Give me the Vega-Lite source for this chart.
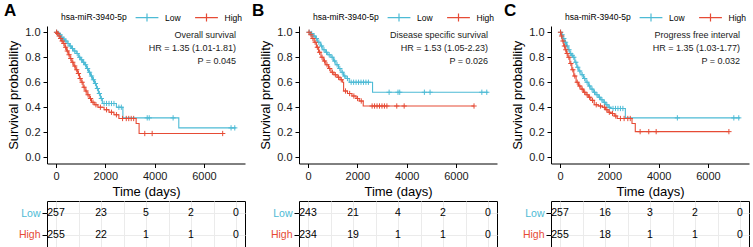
{
"$schema": "https://vega.github.io/schema/vega-lite/v6.json",
"padding": {"left": 4, "top": 2, "right": 0, "bottom": 0},
"spacing": 6,
"background": "white",
"datasets": {
"curves": [
{"p":"A","g":"Low","t":0,"s":1.0},{"p":"A","g":"Low","t":60,"s":0.99},{"p":"A","g":"Low","t":120,"s":0.98},{"p":"A","g":"Low","t":200,"s":0.96},{"p":"A","g":"Low","t":280,"s":0.945},{"p":"A","g":"Low","t":360,"s":0.93},{"p":"A","g":"Low","t":450,"s":0.91},{"p":"A","g":"Low","t":540,"s":0.89},{"p":"A","g":"Low","t":630,"s":0.87},{"p":"A","g":"Low","t":720,"s":0.85},{"p":"A","g":"Low","t":820,"s":0.83},{"p":"A","g":"Low","t":920,"s":0.80},{"p":"A","g":"Low","t":1000,"s":0.78},{"p":"A","g":"Low","t":1080,"s":0.76},{"p":"A","g":"Low","t":1160,"s":0.74},{"p":"A","g":"Low","t":1240,"s":0.71},{"p":"A","g":"Low","t":1320,"s":0.68},{"p":"A","g":"Low","t":1400,"s":0.65},{"p":"A","g":"Low","t":1480,"s":0.62},{"p":"A","g":"Low","t":1560,"s":0.59},{"p":"A","g":"Low","t":1640,"s":0.55},{"p":"A","g":"Low","t":1720,"s":0.51},{"p":"A","g":"Low","t":1800,"s":0.47},{"p":"A","g":"Low","t":1880,"s":0.43},{"p":"A","g":"Low","t":2450,"s":0.40},{"p":"A","g":"Low","t":2713,"s":0.315},{"p":"A","g":"Low","t":4980,"s":0.235},{"p":"A","g":"Low","t":7290,"s":0.235},
{"p":"A","g":"High","t":0,"s":1.0},{"p":"A","g":"High","t":40,"s":0.99},{"p":"A","g":"High","t":100,"s":0.97},{"p":"A","g":"High","t":160,"s":0.95},{"p":"A","g":"High","t":220,"s":0.93},{"p":"A","g":"High","t":290,"s":0.91},{"p":"A","g":"High","t":360,"s":0.88},{"p":"A","g":"High","t":430,"s":0.85},{"p":"A","g":"High","t":500,"s":0.82},{"p":"A","g":"High","t":570,"s":0.79},{"p":"A","g":"High","t":640,"s":0.76},{"p":"A","g":"High","t":720,"s":0.73},{"p":"A","g":"High","t":800,"s":0.70},{"p":"A","g":"High","t":880,"s":0.67},{"p":"A","g":"High","t":950,"s":0.63},{"p":"A","g":"High","t":1020,"s":0.60},{"p":"A","g":"High","t":1100,"s":0.56},{"p":"A","g":"High","t":1180,"s":0.53},{"p":"A","g":"High","t":1260,"s":0.50},{"p":"A","g":"High","t":1350,"s":0.47},{"p":"A","g":"High","t":1440,"s":0.44},{"p":"A","g":"High","t":1550,"s":0.42},{"p":"A","g":"High","t":1700,"s":0.40},{"p":"A","g":"High","t":1950,"s":0.38},{"p":"A","g":"High","t":2150,"s":0.36},{"p":"A","g":"High","t":2350,"s":0.34},{"p":"A","g":"High","t":2550,"s":0.31},{"p":"A","g":"High","t":3250,"s":0.27},{"p":"A","g":"High","t":3370,"s":0.19},{"p":"A","g":"High","t":6760,"s":0.19},
{"p":"B","g":"Low","t":0,"s":1.0},{"p":"B","g":"Low","t":100,"s":0.99},{"p":"B","g":"Low","t":200,"s":0.97},{"p":"B","g":"Low","t":300,"s":0.95},{"p":"B","g":"Low","t":391,"s":0.92},{"p":"B","g":"Low","t":500,"s":0.89},{"p":"B","g":"Low","t":600,"s":0.86},{"p":"B","g":"Low","t":700,"s":0.84},{"p":"B","g":"Low","t":800,"s":0.82},{"p":"B","g":"Low","t":931,"s":0.80},{"p":"B","g":"Low","t":1030,"s":0.77},{"p":"B","g":"Low","t":1130,"s":0.74},{"p":"B","g":"Low","t":1236,"s":0.71},{"p":"B","g":"Low","t":1336,"s":0.68},{"p":"B","g":"Low","t":1440,"s":0.65},{"p":"B","g":"Low","t":1538,"s":0.63},{"p":"B","g":"Low","t":1673,"s":0.60},{"p":"B","g":"Low","t":2618,"s":0.52},{"p":"B","g":"Low","t":7300,"s":0.52},
{"p":"B","g":"High","t":0,"s":1.0},{"p":"B","g":"High","t":80,"s":0.98},{"p":"B","g":"High","t":160,"s":0.95},{"p":"B","g":"High","t":250,"s":0.92},{"p":"B","g":"High","t":340,"s":0.88},{"p":"B","g":"High","t":430,"s":0.84},{"p":"B","g":"High","t":526,"s":0.80},{"p":"B","g":"High","t":620,"s":0.77},{"p":"B","g":"High","t":720,"s":0.74},{"p":"B","g":"High","t":830,"s":0.71},{"p":"B","g":"High","t":930,"s":0.68},{"p":"B","g":"High","t":1050,"s":0.66},{"p":"B","g":"High","t":1180,"s":0.64},{"p":"B","g":"High","t":1300,"s":0.62},{"p":"B","g":"High","t":1404,"s":0.60},{"p":"B","g":"High","t":1444,"s":0.53},{"p":"B","g":"High","t":1600,"s":0.51},{"p":"B","g":"High","t":1781,"s":0.49},{"p":"B","g":"High","t":1950,"s":0.47},{"p":"B","g":"High","t":2078,"s":0.45},{"p":"B","g":"High","t":2240,"s":0.41},{"p":"B","g":"High","t":6733,"s":0.41},
{"p":"C","g":"Low","t":0,"s":1.0},{"p":"C","g":"Low","t":50,"s":0.98},{"p":"C","g":"Low","t":120,"s":0.95},{"p":"C","g":"Low","t":190,"s":0.92},{"p":"C","g":"Low","t":260,"s":0.89},{"p":"C","g":"Low","t":330,"s":0.86},{"p":"C","g":"Low","t":400,"s":0.83},{"p":"C","g":"Low","t":470,"s":0.815},{"p":"C","g":"Low","t":520,"s":0.80},{"p":"C","g":"Low","t":600,"s":0.76},{"p":"C","g":"Low","t":680,"s":0.72},{"p":"C","g":"Low","t":760,"s":0.69},{"p":"C","g":"Low","t":850,"s":0.66},{"p":"C","g":"Low","t":950,"s":0.63},{"p":"C","g":"Low","t":1053,"s":0.60},{"p":"C","g":"Low","t":1150,"s":0.57},{"p":"C","g":"Low","t":1250,"s":0.545},{"p":"C","g":"Low","t":1350,"s":0.52},{"p":"C","g":"Low","t":1453,"s":0.50},{"p":"C","g":"Low","t":1550,"s":0.48},{"p":"C","g":"Low","t":1650,"s":0.46},{"p":"C","g":"Low","t":1750,"s":0.44},{"p":"C","g":"Low","t":1853,"s":0.42},{"p":"C","g":"Low","t":1950,"s":0.40},{"p":"C","g":"Low","t":2053,"s":0.39},{"p":"C","g":"Low","t":2650,"s":0.315},{"p":"C","g":"Low","t":7300,"s":0.315},
{"p":"C","g":"High","t":0,"s":1.0},{"p":"C","g":"High","t":40,"s":0.97},{"p":"C","g":"High","t":90,"s":0.93},{"p":"C","g":"High","t":150,"s":0.89},{"p":"C","g":"High","t":210,"s":0.86},{"p":"C","g":"High","t":260,"s":0.83},{"p":"C","g":"High","t":320,"s":0.80},{"p":"C","g":"High","t":400,"s":0.75},{"p":"C","g":"High","t":480,"s":0.70},{"p":"C","g":"High","t":560,"s":0.65},{"p":"C","g":"High","t":653,"s":0.60},{"p":"C","g":"High","t":750,"s":0.57},{"p":"C","g":"High","t":850,"s":0.545},{"p":"C","g":"High","t":950,"s":0.52},{"p":"C","g":"High","t":1053,"s":0.50},{"p":"C","g":"High","t":1150,"s":0.48},{"p":"C","g":"High","t":1250,"s":0.455},{"p":"C","g":"High","t":1387,"s":0.42},{"p":"C","g":"High","t":1550,"s":0.41},{"p":"C","g":"High","t":1720,"s":0.40},{"p":"C","g":"High","t":1850,"s":0.38},{"p":"C","g":"High","t":1950,"s":0.36},{"p":"C","g":"High","t":2053,"s":0.35},{"p":"C","g":"High","t":2200,"s":0.33},{"p":"C","g":"High","t":2320,"s":0.31},{"p":"C","g":"High","t":2920,"s":0.27},{"p":"C","g":"High","t":3053,"s":0.205},{"p":"C","g":"High","t":6850,"s":0.205}
],
"censor": [
{"p":"A","g":"Low","t":30,"s":1.0},{"p":"A","g":"Low","t":90,"s":0.99},{"p":"A","g":"Low","t":160,"s":0.98},{"p":"A","g":"Low","t":240,"s":0.96},{"p":"A","g":"Low","t":320,"s":0.945},{"p":"A","g":"Low","t":400,"s":0.93},{"p":"A","g":"Low","t":490,"s":0.91},{"p":"A","g":"Low","t":580,"s":0.89},{"p":"A","g":"Low","t":670,"s":0.87},{"p":"A","g":"Low","t":760,"s":0.85},{"p":"A","g":"Low","t":860,"s":0.83},{"p":"A","g":"Low","t":960,"s":0.80},{"p":"A","g":"Low","t":1040,"s":0.78},{"p":"A","g":"Low","t":1120,"s":0.76},{"p":"A","g":"Low","t":1200,"s":0.74},{"p":"A","g":"Low","t":1280,"s":0.71},{"p":"A","g":"Low","t":1360,"s":0.68},{"p":"A","g":"Low","t":1440,"s":0.65},{"p":"A","g":"Low","t":1520,"s":0.62},{"p":"A","g":"Low","t":1600,"s":0.59},{"p":"A","g":"Low","t":1680,"s":0.55},{"p":"A","g":"Low","t":1760,"s":0.51},{"p":"A","g":"Low","t":1840,"s":0.47},{"p":"A","g":"Low","t":1950,"s":0.43},{"p":"A","g":"Low","t":2050,"s":0.43},{"p":"A","g":"Low","t":2150,"s":0.43},{"p":"A","g":"Low","t":2250,"s":0.43},{"p":"A","g":"Low","t":2350,"s":0.43},{"p":"A","g":"Low","t":2550,"s":0.40},{"p":"A","g":"Low","t":2650,"s":0.40},{"p":"A","g":"Low","t":3700,"s":0.315},{"p":"A","g":"Low","t":3780,"s":0.315},{"p":"A","g":"Low","t":4750,"s":0.315},{"p":"A","g":"Low","t":7100,"s":0.235},{"p":"A","g":"Low","t":7250,"s":0.235},
{"p":"A","g":"High","t":20,"s":1.0},{"p":"A","g":"High","t":70,"s":0.99},{"p":"A","g":"High","t":130,"s":0.97},{"p":"A","g":"High","t":190,"s":0.95},{"p":"A","g":"High","t":250,"s":0.93},{"p":"A","g":"High","t":320,"s":0.91},{"p":"A","g":"High","t":390,"s":0.88},{"p":"A","g":"High","t":460,"s":0.85},{"p":"A","g":"High","t":530,"s":0.82},{"p":"A","g":"High","t":600,"s":0.79},{"p":"A","g":"High","t":680,"s":0.76},{"p":"A","g":"High","t":760,"s":0.73},{"p":"A","g":"High","t":840,"s":0.70},{"p":"A","g":"High","t":910,"s":0.67},{"p":"A","g":"High","t":980,"s":0.63},{"p":"A","g":"High","t":1060,"s":0.60},{"p":"A","g":"High","t":1140,"s":0.56},{"p":"A","g":"High","t":1220,"s":0.53},{"p":"A","g":"High","t":1300,"s":0.50},{"p":"A","g":"High","t":1400,"s":0.47},{"p":"A","g":"High","t":1500,"s":0.44},{"p":"A","g":"High","t":1620,"s":0.42},{"p":"A","g":"High","t":1800,"s":0.40},{"p":"A","g":"High","t":2050,"s":0.38},{"p":"A","g":"High","t":2250,"s":0.36},{"p":"A","g":"High","t":2450,"s":0.34},{"p":"A","g":"High","t":2700,"s":0.31},{"p":"A","g":"High","t":2850,"s":0.31},{"p":"A","g":"High","t":2950,"s":0.31},{"p":"A","g":"High","t":3050,"s":0.31},{"p":"A","g":"High","t":3150,"s":0.31},{"p":"A","g":"High","t":3600,"s":0.19},{"p":"A","g":"High","t":3900,"s":0.19},{"p":"A","g":"High","t":6760,"s":0.19},
{"p":"B","g":"Low","t":50,"s":1.0},{"p":"B","g":"Low","t":150,"s":0.99},{"p":"B","g":"Low","t":250,"s":0.97},{"p":"B","g":"Low","t":340,"s":0.95},{"p":"B","g":"Low","t":440,"s":0.92},{"p":"B","g":"Low","t":550,"s":0.89},{"p":"B","g":"Low","t":650,"s":0.86},{"p":"B","g":"Low","t":750,"s":0.84},{"p":"B","g":"Low","t":860,"s":0.82},{"p":"B","g":"Low","t":980,"s":0.80},{"p":"B","g":"Low","t":1080,"s":0.77},{"p":"B","g":"Low","t":1180,"s":0.74},{"p":"B","g":"Low","t":1290,"s":0.71},{"p":"B","g":"Low","t":1390,"s":0.68},{"p":"B","g":"Low","t":1490,"s":0.65},{"p":"B","g":"Low","t":1600,"s":0.63},{"p":"B","g":"Low","t":1750,"s":0.60},{"p":"B","g":"Low","t":1850,"s":0.60},{"p":"B","g":"Low","t":1950,"s":0.60},{"p":"B","g":"Low","t":2050,"s":0.60},{"p":"B","g":"Low","t":2150,"s":0.60},{"p":"B","g":"Low","t":2250,"s":0.60},{"p":"B","g":"Low","t":2350,"s":0.60},{"p":"B","g":"Low","t":2450,"s":0.60},{"p":"B","g":"Low","t":3290,"s":0.52},{"p":"B","g":"Low","t":3650,"s":0.52},{"p":"B","g":"Low","t":3720,"s":0.52},{"p":"B","g":"Low","t":4720,"s":0.52},{"p":"B","g":"Low","t":4950,"s":0.52},{"p":"B","g":"Low","t":7050,"s":0.52},{"p":"B","g":"Low","t":7250,"s":0.52},
{"p":"B","g":"High","t":40,"s":1.0},{"p":"B","g":"High","t":120,"s":0.98},{"p":"B","g":"High","t":200,"s":0.95},{"p":"B","g":"High","t":290,"s":0.92},{"p":"B","g":"High","t":380,"s":0.88},{"p":"B","g":"High","t":470,"s":0.84},{"p":"B","g":"High","t":570,"s":0.80},{"p":"B","g":"High","t":670,"s":0.77},{"p":"B","g":"High","t":770,"s":0.74},{"p":"B","g":"High","t":880,"s":0.71},{"p":"B","g":"High","t":990,"s":0.68},{"p":"B","g":"High","t":1110,"s":0.66},{"p":"B","g":"High","t":1240,"s":0.64},{"p":"B","g":"High","t":1350,"s":0.62},{"p":"B","g":"High","t":1520,"s":0.53},{"p":"B","g":"High","t":1690,"s":0.51},{"p":"B","g":"High","t":1860,"s":0.49},{"p":"B","g":"High","t":2010,"s":0.47},{"p":"B","g":"High","t":2160,"s":0.45},{"p":"B","g":"High","t":2600,"s":0.41},{"p":"B","g":"High","t":2700,"s":0.41},{"p":"B","g":"High","t":2800,"s":0.41},{"p":"B","g":"High","t":2900,"s":0.41},{"p":"B","g":"High","t":3000,"s":0.41},{"p":"B","g":"High","t":3100,"s":0.41},{"p":"B","g":"High","t":3200,"s":0.41},{"p":"B","g":"High","t":3600,"s":0.41},{"p":"B","g":"High","t":3900,"s":0.41},{"p":"B","g":"High","t":6733,"s":0.41},
{"p":"C","g":"Low","t":25,"s":1.0},{"p":"C","g":"Low","t":85,"s":0.98},{"p":"C","g":"Low","t":155,"s":0.95},{"p":"C","g":"Low","t":225,"s":0.92},{"p":"C","g":"Low","t":295,"s":0.89},{"p":"C","g":"Low","t":365,"s":0.86},{"p":"C","g":"Low","t":435,"s":0.83},{"p":"C","g":"Low","t":495,"s":0.815},{"p":"C","g":"Low","t":560,"s":0.80},{"p":"C","g":"Low","t":640,"s":0.76},{"p":"C","g":"Low","t":720,"s":0.72},{"p":"C","g":"Low","t":800,"s":0.69},{"p":"C","g":"Low","t":900,"s":0.66},{"p":"C","g":"Low","t":1000,"s":0.63},{"p":"C","g":"Low","t":1100,"s":0.60},{"p":"C","g":"Low","t":1200,"s":0.57},{"p":"C","g":"Low","t":1300,"s":0.545},{"p":"C","g":"Low","t":1400,"s":0.52},{"p":"C","g":"Low","t":1500,"s":0.50},{"p":"C","g":"Low","t":1600,"s":0.48},{"p":"C","g":"Low","t":1700,"s":0.46},{"p":"C","g":"Low","t":1800,"s":0.44},{"p":"C","g":"Low","t":1900,"s":0.42},{"p":"C","g":"Low","t":2000,"s":0.40},{"p":"C","g":"Low","t":2150,"s":0.39},{"p":"C","g":"Low","t":2250,"s":0.39},{"p":"C","g":"Low","t":2350,"s":0.39},{"p":"C","g":"Low","t":2450,"s":0.39},{"p":"C","g":"Low","t":2550,"s":0.39},{"p":"C","g":"Low","t":4760,"s":0.315},{"p":"C","g":"Low","t":7050,"s":0.315},{"p":"C","g":"Low","t":7250,"s":0.315},
{"p":"C","g":"High","t":20,"s":1.0},{"p":"C","g":"High","t":65,"s":0.97},{"p":"C","g":"High","t":120,"s":0.93},{"p":"C","g":"High","t":180,"s":0.89},{"p":"C","g":"High","t":235,"s":0.86},{"p":"C","g":"High","t":290,"s":0.83},{"p":"C","g":"High","t":360,"s":0.80},{"p":"C","g":"High","t":440,"s":0.75},{"p":"C","g":"High","t":520,"s":0.70},{"p":"C","g":"High","t":600,"s":0.65},{"p":"C","g":"High","t":700,"s":0.60},{"p":"C","g":"High","t":800,"s":0.57},{"p":"C","g":"High","t":900,"s":0.545},{"p":"C","g":"High","t":1000,"s":0.52},{"p":"C","g":"High","t":1100,"s":0.50},{"p":"C","g":"High","t":1200,"s":0.48},{"p":"C","g":"High","t":1320,"s":0.455},{"p":"C","g":"High","t":1470,"s":0.42},{"p":"C","g":"High","t":1640,"s":0.41},{"p":"C","g":"High","t":1800,"s":0.40},{"p":"C","g":"High","t":1900,"s":0.38},{"p":"C","g":"High","t":2000,"s":0.36},{"p":"C","g":"High","t":2130,"s":0.35},{"p":"C","g":"High","t":2260,"s":0.33},{"p":"C","g":"High","t":2450,"s":0.31},{"p":"C","g":"High","t":2600,"s":0.31},{"p":"C","g":"High","t":2750,"s":0.31},{"p":"C","g":"High","t":2850,"s":0.31},{"p":"C","g":"High","t":3250,"s":0.205},{"p":"C","g":"High","t":3600,"s":0.205},{"p":"C","g":"High","t":3900,"s":0.205},{"p":"C","g":"High","t":6850,"s":0.205}
],
"notes": [
{"p":"A","txt":"Overall survival\nHR = 1.35 (1.01-1.81)\nP = 0.045"},
{"p":"B","txt":"Disease specific survival\nHR = 1.53 (1.05-2.23)\nP = 0.026"},
{"p":"C","txt":"Progress free interval\nHR = 1.35 (1.03-1.77)\nP = 0.032"}
],
"risk": [
{"p":"A","g":"Low","t":0,"n":"257"},{"p":"A","g":"Low","t":2000,"n":"23"},{"p":"A","g":"Low","t":4000,"n":"5"},{"p":"A","g":"Low","t":6000,"n":"2"},{"p":"A","g":"Low","t":8000,"n":"0"},
{"p":"A","g":"High","t":0,"n":"255"},{"p":"A","g":"High","t":2000,"n":"22"},{"p":"A","g":"High","t":4000,"n":"1"},{"p":"A","g":"High","t":6000,"n":"1"},{"p":"A","g":"High","t":8000,"n":"0"},
{"p":"B","g":"Low","t":0,"n":"243"},{"p":"B","g":"Low","t":2000,"n":"21"},{"p":"B","g":"Low","t":4000,"n":"4"},{"p":"B","g":"Low","t":6000,"n":"2"},{"p":"B","g":"Low","t":8000,"n":"0"},
{"p":"B","g":"High","t":0,"n":"234"},{"p":"B","g":"High","t":2000,"n":"19"},{"p":"B","g":"High","t":4000,"n":"1"},{"p":"B","g":"High","t":6000,"n":"1"},{"p":"B","g":"High","t":8000,"n":"0"},
{"p":"C","g":"Low","t":0,"n":"257"},{"p":"C","g":"Low","t":2000,"n":"16"},{"p":"C","g":"Low","t":4000,"n":"3"},{"p":"C","g":"Low","t":6000,"n":"2"},{"p":"C","g":"Low","t":8000,"n":"0"},
{"p":"C","g":"High","t":0,"n":"255"},{"p":"C","g":"High","t":2000,"n":"18"},{"p":"C","g":"High","t":4000,"n":"1"},{"p":"C","g":"High","t":6000,"n":"1"},{"p":"C","g":"High","t":8000,"n":"0"}
]
},
"resolve": {"scale": {"color": "independent"}, "legend": {"color": "independent"}},
"hconcat": [
{
"title": {"text": "A", "dx": -43},
"spacing": 1,
"resolve": {"scale": {"color": "independent"}, "legend": {"color": "independent"}},
"vconcat": [
{"width": 198, "height": 137.5,
"layer": [
{"data": {"name": "curves"}, "transform": [{"filter": "datum.p == 'A'"}],
"mark": {"type": "line", "interpolate": "step-after", "strokeWidth": 1.1},
"encoding": {
"x": {"field": "t", "type": "quantitative", "scale": {"domain": [-365, 7665], "nice": false, "zero": false}, "axis": {"values": [0, 2000, 4000, 6000], "tickCount": 4, "format": "d", "title": "Time (days)"}},
"y": {"field": "s", "type": "quantitative", "scale": {"domain": [-0.05, 1.05], "nice": false, "zero": false}, "axis": {"values": [0, 0.2, 0.4, 0.6, 0.8, 1], "tickCount": 6, "format": ".1f", "title": "Survival probability", "labelOverlap": false}},
"color": {"field": "g", "type": "nominal", "scale": {"domain": ["Low", "High"], "range": ["#4DBBD5", "#E64B35"]}, "legend": {"title": "hsa-miR-3940-5p", "orient": "none", "legendX": 14, "legendY": -15, "symbolType": "M-2,0L2,0M0,-0.7L0,0.7", "symbolSize": 130, "symbolStrokeWidth": 1.2}}
}},
{"data": {"name": "censor"}, "transform": [{"filter": "datum.p == 'A'"}],
"mark": {"type": "point", "shape": "M-1,0L1,0M0,-1L0,1", "size": 28, "filled": false, "strokeWidth": 1, "opacity": 1},
"encoding": {
"x": {"field": "t", "type": "quantitative"},
"y": {"field": "s", "type": "quantitative"},
"color": {"field": "g", "type": "nominal", "scale": {"domain": ["Low", "High"], "range": ["#4DBBD5", "#E64B35"]}, "legend": {"title": "hsa-miR-3940-5p", "orient": "none", "legendX": 14, "legendY": -15, "symbolType": "M-2,0L2,0M0,-0.7L0,0.7", "symbolSize": 130, "symbolStrokeWidth": 1.2}}
}},
{"data": {"name": "notes"}, "transform": [{"filter": "datum.p == 'A'"}],
"mark": {"type": "text", "align": "right", "baseline": "middle", "lineBreak": "\n", "fontSize": 9, "lineHeight": 13.3, "color": "#1a1a1a"},
"encoding": {
"x": {"datum": 7300, "type": "quantitative"},
"y": {"datum": 0.982, "type": "quantitative"},
"text": {"field": "txt"}
}}
]},
{"width": 198, "height": 46, "view": {"stroke": "black", "strokeWidth": 1},
"data": {"name": "risk"}, "transform": [{"filter": "datum.p == 'A'"}],
"mark": {"type": "text", "fontSize": 10.5, "color": "black"},
"encoding": {
"x": {"field": "t", "type": "quantitative", "scale": {"domain": [-400, 8400], "nice": false, "zero": false}, "axis": {"values": [0,1000,2000,3000,4000,5000,6000,7000,8000], "tickCount": 9, "labels": false, "ticks": false, "domain": false, "title": null, "grid": true, "gridColor": "#EBEBEB"}},
"y": {"field": "g", "type": "nominal", "scale": {"type": "point", "domain": ["Low", "High"], "padding": 0.55}, "axis": {"title": null, "domain": false, "grid": true, "gridColor": "#EBEBEB", "tickSize": 5, "labelPadding": 2, "labelFontSize": 10.5, "labelColor": {"expr": "datum.value == 'Low' ? '#4DBBD5' : '#E64B35'"}}},
"text": {"field": "n"}
}}
]
},
{
"title": {"text": "B", "dx": -47},
"spacing": 1,
"resolve": {"scale": {"color": "independent"}, "legend": {"color": "independent"}},
"vconcat": [
{"width": 198, "height": 137.5,
"layer": [
{"data": {"name": "curves"}, "transform": [{"filter": "datum.p == 'B'"}],
"mark": {"type": "line", "interpolate": "step-after", "strokeWidth": 1.1},
"encoding": {
"x": {"field": "t", "type": "quantitative", "scale": {"domain": [-365, 7665], "nice": false, "zero": false}, "axis": {"values": [0, 2000, 4000, 6000], "tickCount": 4, "format": "d", "title": "Time (days)"}},
"y": {"field": "s", "type": "quantitative", "scale": {"domain": [-0.05, 1.05], "nice": false, "zero": false}, "axis": {"values": [0, 0.2, 0.4, 0.6, 0.8, 1], "tickCount": 6, "format": ".1f", "title": "Survival probability", "labelOverlap": false}},
"color": {"field": "g", "type": "nominal", "scale": {"domain": ["Low", "High"], "range": ["#4DBBD5", "#E64B35"]}, "legend": {"title": "hsa-miR-3940-5p", "orient": "none", "legendX": 14, "legendY": -15, "symbolType": "M-2,0L2,0M0,-0.7L0,0.7", "symbolSize": 130, "symbolStrokeWidth": 1.2}}
}},
{"data": {"name": "censor"}, "transform": [{"filter": "datum.p == 'B'"}],
"mark": {"type": "point", "shape": "M-1,0L1,0M0,-1L0,1", "size": 28, "filled": false, "strokeWidth": 1, "opacity": 1},
"encoding": {
"x": {"field": "t", "type": "quantitative"},
"y": {"field": "s", "type": "quantitative"},
"color": {"field": "g", "type": "nominal", "scale": {"domain": ["Low", "High"], "range": ["#4DBBD5", "#E64B35"]}, "legend": {"title": "hsa-miR-3940-5p", "orient": "none", "legendX": 14, "legendY": -15, "symbolType": "M-2,0L2,0M0,-0.7L0,0.7", "symbolSize": 130, "symbolStrokeWidth": 1.2}}
}},
{"data": {"name": "notes"}, "transform": [{"filter": "datum.p == 'B'"}],
"mark": {"type": "text", "align": "right", "baseline": "middle", "lineBreak": "\n", "fontSize": 9, "lineHeight": 13.3, "color": "#1a1a1a"},
"encoding": {
"x": {"datum": 7300, "type": "quantitative"},
"y": {"datum": 0.982, "type": "quantitative"},
"text": {"field": "txt"}
}}
]},
{"width": 198, "height": 46, "view": {"stroke": "black", "strokeWidth": 1},
"data": {"name": "risk"}, "transform": [{"filter": "datum.p == 'B'"}],
"mark": {"type": "text", "fontSize": 10.5, "color": "black"},
"encoding": {
"x": {"field": "t", "type": "quantitative", "scale": {"domain": [-400, 8400], "nice": false, "zero": false}, "axis": {"values": [0,1000,2000,3000,4000,5000,6000,7000,8000], "tickCount": 9, "labels": false, "ticks": false, "domain": false, "title": null, "grid": true, "gridColor": "#EBEBEB"}},
"y": {"field": "g", "type": "nominal", "scale": {"type": "point", "domain": ["Low", "High"], "padding": 0.55}, "axis": {"title": null, "domain": false, "grid": true, "gridColor": "#EBEBEB", "tickSize": 5, "labelPadding": 2, "labelFontSize": 10.5, "labelColor": {"expr": "datum.value == 'Low' ? '#4DBBD5' : '#E64B35'"}}},
"text": {"field": "n"}
}}
]
},
{
"title": {"text": "C", "dx": -47},
"spacing": 1,
"resolve": {"scale": {"color": "independent"}, "legend": {"color": "independent"}},
"vconcat": [
{"width": 198, "height": 137.5,
"layer": [
{"data": {"name": "curves"}, "transform": [{"filter": "datum.p == 'C'"}],
"mark": {"type": "line", "interpolate": "step-after", "strokeWidth": 1.1},
"encoding": {
"x": {"field": "t", "type": "quantitative", "scale": {"domain": [-365, 7665], "nice": false, "zero": false}, "axis": {"values": [0, 2000, 4000, 6000], "tickCount": 4, "format": "d", "title": "Time (days)"}},
"y": {"field": "s", "type": "quantitative", "scale": {"domain": [-0.05, 1.05], "nice": false, "zero": false}, "axis": {"values": [0, 0.2, 0.4, 0.6, 0.8, 1], "tickCount": 6, "format": ".1f", "title": "Survival probability", "labelOverlap": false}},
"color": {"field": "g", "type": "nominal", "scale": {"domain": ["Low", "High"], "range": ["#4DBBD5", "#E64B35"]}, "legend": {"title": "hsa-miR-3940-5p", "orient": "none", "legendX": 14, "legendY": -15, "symbolType": "M-2,0L2,0M0,-0.7L0,0.7", "symbolSize": 130, "symbolStrokeWidth": 1.2}}
}},
{"data": {"name": "censor"}, "transform": [{"filter": "datum.p == 'C'"}],
"mark": {"type": "point", "shape": "M-1,0L1,0M0,-1L0,1", "size": 28, "filled": false, "strokeWidth": 1, "opacity": 1},
"encoding": {
"x": {"field": "t", "type": "quantitative"},
"y": {"field": "s", "type": "quantitative"},
"color": {"field": "g", "type": "nominal", "scale": {"domain": ["Low", "High"], "range": ["#4DBBD5", "#E64B35"]}, "legend": {"title": "hsa-miR-3940-5p", "orient": "none", "legendX": 14, "legendY": -15, "symbolType": "M-2,0L2,0M0,-0.7L0,0.7", "symbolSize": 130, "symbolStrokeWidth": 1.2}}
}},
{"data": {"name": "notes"}, "transform": [{"filter": "datum.p == 'C'"}],
"mark": {"type": "text", "align": "right", "baseline": "middle", "lineBreak": "\n", "fontSize": 9, "lineHeight": 13.3, "color": "#1a1a1a"},
"encoding": {
"x": {"datum": 7300, "type": "quantitative"},
"y": {"datum": 0.982, "type": "quantitative"},
"text": {"field": "txt"}
}}
]},
{"width": 198, "height": 46, "view": {"stroke": "black", "strokeWidth": 1},
"data": {"name": "risk"}, "transform": [{"filter": "datum.p == 'C'"}],
"mark": {"type": "text", "fontSize": 10.5, "color": "black"},
"encoding": {
"x": {"field": "t", "type": "quantitative", "scale": {"domain": [-400, 8400], "nice": false, "zero": false}, "axis": {"values": [0,1000,2000,3000,4000,5000,6000,7000,8000], "tickCount": 9, "labels": false, "ticks": false, "domain": false, "title": null, "grid": true, "gridColor": "#EBEBEB"}},
"y": {"field": "g", "type": "nominal", "scale": {"type": "point", "domain": ["Low", "High"], "padding": 0.55}, "axis": {"title": null, "domain": false, "grid": true, "gridColor": "#EBEBEB", "tickSize": 5, "labelPadding": 2, "labelFontSize": 10.5, "labelColor": {"expr": "datum.value == 'Low' ? '#4DBBD5' : '#E64B35'"}}},
"text": {"field": "n"}
}}
]
}
],
"config": {
"font": "Liberation Sans",
"view": {"stroke": null},
"axis": {"domainColor": "black", "tickColor": "black", "labelColor": "#1a1a1a", "labelFontSize": 11, "titleFontSize": 13, "titleFontWeight": "normal", "titleColor": "black", "grid": false, "tickSize": 4, "labelPadding": 3, "titlePadding": 4, "domainWidth": 1, "tickWidth": 1, "labelOverlap": false},
"legend": {"direction": "horizontal", "titleOrient": "left", "titleFontSize": 8.5, "titleFontWeight": "normal", "titleColor": "black", "labelFontSize": 8.5, "labelColor": "black", "titlePadding": 13.5, "columnPadding": 10.5, "labelOffset": 11.5, "padding": 0},
"title": {"anchor": "start", "frame": "group", "fontSize": 17, "fontWeight": "bold", "color": "black", "offset": -9}
}
}
